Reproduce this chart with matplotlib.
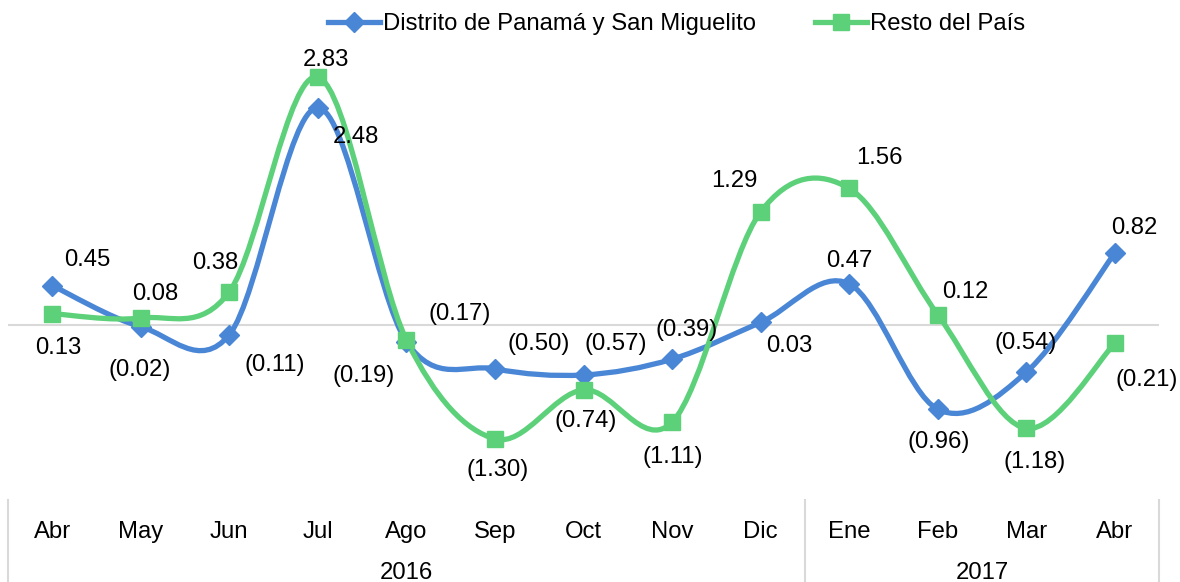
import numpy as np
import matplotlib
matplotlib.use("Agg")
import matplotlib.pyplot as plt
from matplotlib.path import Path
from matplotlib.patches import PathPatch
from matplotlib.lines import Line2D

# data
months = ["Abr", "May", "Jun", "Jul", "Ago", "Sep", "Oct", "Nov", "Dic",
          "Ene", "Feb", "Mar", "Abr"]
years = ["2016", "2017"]
year_span = [(0, 8), (9, 12)]
panama = [0.45, -0.02, -0.11, 2.48, -0.19, -0.50, -0.57, -0.39, 0.03,
          0.47, -0.96, -0.54, 0.82]
resto = [0.13, 0.08, 0.38, 2.83, -0.17, -1.30, -0.74, -1.11, 1.29,
         1.56, 0.12, -1.18, -0.21]
series_names = ["Distrito de Panamá y San Miguelito", "Resto del País"]

BLUE = "#4A86D6"
GREEN = "#5CD17A"
GRID = "#D9D9D9"
FS = 17.2

# label offsets in pixels (dx, dy), up is positive
off_panama = [(35, 26), (-1, -43), (45, -30), (38, -29), (-43, -34), (44, 25),
              (32, 31), (15, 29), (29, -24), (0, 23), (1, -33), (-1, 29), (20, 25)]
off_resto = [(6, -34), (14, 24), (-14, 29), (8, 17), (53, 26), (3, -31),
             (2, -31), (1, -35), (-26, 31), (30, 30), (28, 23), (8, -34), (32, -37)]

plt.rcParams['font.family'] = ['Liberation Sans', 'DejaVu Sans']


def smooth_path(x, y):
    # excel style smoothed line: cubic bezier, catmull-rom control points
    pts = np.column_stack([x, y]).astype(float)
    n = len(pts)
    verts = [pts[0]]
    codes = [Path.MOVETO]
    for i in range(n - 1):
        p0 = pts[max(i - 1, 0)]
        p1 = pts[i]
        p2 = pts[i + 1]
        p3 = pts[min(i + 2, n - 1)]
        c1 = p1 + (p2 - p0) / 6.0
        c2 = p2 - (p3 - p1) / 6.0
        verts += [c1, c2, p2]
        codes += [Path.CURVE4] * 3
    return Path(verts, codes)


def fmt(v):
    if v < 0:
        return f"({abs(v):.2f})"
    return f"{v:.2f}"


fig = plt.figure(figsize=(11.8, 5.82), dpi=100)
ax = fig.add_axes([8 / 1180, 85 / 582, 1151 / 1180, 497 / 582])
x = np.arange(len(months))

ax.set_xlim(-0.5, len(months) - 0.5)
ax.set_ylim(-1.963, 3.71)
for s in ax.spines.values():
    s.set_visible(False)
ax.set_yticks([])
ax.axhline(0, color=GRID, lw=1.5, zorder=1)

for vals, col, mk, ms in [(panama, BLUE, "D", 10), (resto, GREEN, "s", 11)]:
    patch = PathPatch(smooth_path(x, vals), fill=False, edgecolor=col, lw=3.8,
                      capstyle="round", joinstyle="round", zorder=2)
    ax.add_patch(patch)
    ax.plot(x, vals, linestyle="none", marker=mk, ms=ms, color=col, zorder=3)

for vals, offs in [(panama, off_panama), (resto, off_resto)]:
    for xi, v, (dx, dy) in zip(x, vals, offs):
        ax.annotate(fmt(v), (xi, v), xytext=(dx, dy), textcoords="offset pixels",
                    ha="center", va="center", fontsize=FS, color="black", zorder=4)

# category axis: months, years and separators
ax.set_xticks(x)
ax.set_xticklabels(months, fontsize=FS)
ax.tick_params(axis="x", length=0, pad=17)
trans = ax.get_xaxis_transform()
for name, (a, b) in zip(years, year_span):
    ax.text((a + b) / 2, -0.153, name, transform=trans, ha="center", va="center",
            fontsize=FS)
for sep in [-0.5, 8.5, 12.5]:
    ax.plot([sep, sep], [-0.006, -0.172], transform=trans, color=GRID, lw=1.5,
            clip_on=False)

handles = [Line2D([], [], color=BLUE, lw=3.8, marker="D", ms=10),
           Line2D([], [], color=GREEN, lw=3.8, marker="s", ms=11)]
fig.legend(handles, series_names, loc="center", bbox_to_anchor=(0.5733, 1 - 24 / 582),
           ncol=2, frameon=False, fontsize=FS, handlelength=2.2, handletextpad=0.12,
           columnspacing=2.45)

fig.savefig("out.png", dpi=100)
